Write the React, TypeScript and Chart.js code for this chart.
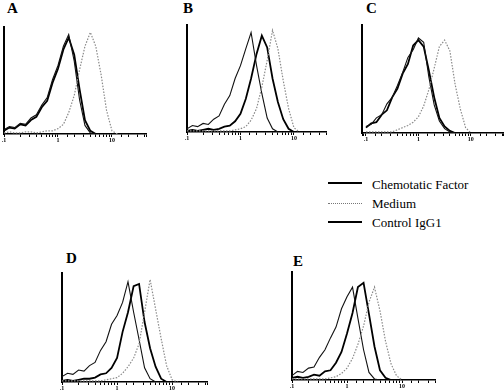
import React, { useEffect, useRef } from 'react';
import { Chart, registerables } from 'chart.js';

Chart.register(...registerables);

// Fluorescence intensity bins (log axis), shared by all panels
const bins = [0.1, 0.126, 0.158, 0.2, 0.251, 0.316, 0.398, 0.501, 0.631, 0.794, 1, 1.26, 1.58, 2, 2.51, 3.16, 3.98, 5.01, 6.31, 7.94, 10, 12.6, 15.8, 20, 25.1, 31.6, 39.8];
const tickLabels: Record<string, string> = { '0.1': '.1', '1': '1', '10': '10' };
const seriesNames = ['Chemotatic Factor', 'Medium', 'Control IgG1'];
const panelNames = ['A', 'B', 'C', 'D', 'E'];

// Relative cell counts (% of axis height)
const chemA = [3, 6, 5, 9, 8, 13, 16, 25, 31, 48, 61, 79, 90, 74, 42, 13, 3, 0];
const mediumA = [1, 2, 1, 1, 2, 2, 1, 2, 3, 3, 5, 9, 20, 36, 60, 82, 95, 82, 55, 22, 3, 0];
const controlA = [4, 7, 6, 10, 9, 15, 18, 27, 34, 51, 64, 82, 93, 68, 32, 8, 1, 0];

const chemB = [1, 2, 1, 2, 3, 2, 3, 5, 6, 10, 17, 31, 50, 73, 90, 79, 50, 28, 12, 3, 0];
const mediumB = [1, 1, 1, 1, 1, 1, 1, 1, 1, 2, 3, 5, 11, 22, 42, 67, 95, 78, 48, 22, 4, 0];
const controlB = [3, 6, 5, 8, 7, 12, 15, 26, 34, 50, 62, 78, 93, 62, 36, 13, 3, 0];

const chemC = [5, 9, 10, 17, 21, 33, 41, 55, 64, 81, 86, 80, 58, 33, 14, 6, 2, 0];
const mediumC = [1, 1, 1, 1, 1, 1, 3, 5, 7, 10, 15, 25, 40, 60, 80, 86, 76, 45, 22, 5, 0];
const controlC = [6, 8, 14, 17, 27, 33, 44, 56, 70, 77, 88, 84, 52, 26, 11, 4, 1, 0];

const chemD = [1, 2, 1, 2, 3, 3, 4, 7, 8, 13, 22, 46, 64, 88, 90, 55, 31, 14, 3, 0];
const mediumD = [1, 1, 1, 1, 1, 1, 1, 1, 2, 3, 4, 8, 14, 22, 35, 64, 94, 67, 40, 15, 2, 0];
const controlD = [5, 8, 7, 11, 10, 15, 18, 29, 37, 53, 61, 73, 92, 64, 39, 13, 3, 0];

const chemE = [2, 3, 2, 3, 5, 4, 8, 9, 16, 26, 43, 62, 86, 90, 61, 31, 9, 2, 0];
const mediumE = [1, 1, 1, 1, 1, 1, 1, 2, 3, 6, 11, 20, 33, 50, 72, 86, 64, 36, 15, 4, 0];
const controlE = [4, 8, 7, 11, 12, 21, 28, 39, 49, 66, 77, 86, 57, 28, 7, 1, 0];

const panelSeries = [
  [chemA, mediumA, controlA],
  [chemB, mediumB, controlB],
  [chemC, mediumC, controlC],
  [chemD, mediumD, controlD],
  [chemE, mediumE, controlE],
];

// Layout (page pixels) of each panel's plot area
const layouts = [
  { axisX: 4, top: 27, bottom: 134, right: 146, min: 0.1, max: 42.7, lx: 7, ly: 1 },
  { axisX: 187, top: 25, bottom: 132, right: 326, min: 0.1, max: 39.8, lx: 183, ly: 1 },
  { axisX: 362, top: 25, bottom: 133, right: 503, min: 0.084, max: 41, lx: 366, ly: 1 },
  { axisX: 62, top: 273, bottom: 382, right: 207, min: 0.1, max: 43, lx: 66, ly: 251 },
  { axisX: 292, top: 272, bottom: 380, right: 435, min: 0.1, max: 39.8, lx: 293, ly: 254 },
];

const SERIF = "'Liberation Serif', 'Times New Roman', Times, serif";
const PL = 6, PT = 2, XH = 12;

const styles = [
  { color: '#000000', width: 1.8, dash: [] as number[] },
  { color: '#8a8a8a', width: 1.2, dash: [1.5, 1.5] },
  { color: '#111111', width: 1.1, dash: [] as number[] },
];

function Panel({ idx }: { idx: number }) {
  const ref = useRef<HTMLCanvasElement>(null);
  const L = layouts[idx];
  const PR = L.right >= 500 ? 1 : 3;
  const w = L.right - L.axisX + PL + PR;
  const h = L.bottom - L.top + PT + XH;
  useEffect(() => {
    const datasets = panelSeries[idx].map((vals, s) => ({
      label: seriesNames[s],
      data: vals.map((y, i) => ({ x: bins[i], y })),
      borderColor: styles[s].color,
      borderWidth: styles[s].width,
      borderDash: styles[s].dash,
      pointRadius: 0,
      tension: 0,
      fill: false,
    }));
    const ordered = [datasets[1], datasets[2], datasets[0]];
    const chart = new Chart(ref.current!, {
      type: 'line',
      data: { datasets: ordered },
      options: {
        animation: false,
        responsive: false,
        layout: { padding: { left: PL, top: PT, right: PR, bottom: 0 } },
        plugins: { legend: { display: false }, tooltip: { enabled: false } },
        scales: {
          x: {
            type: 'logarithmic',
            min: L.min,
            max: L.max,
            afterFit: (s: any) => { s.height = XH; },
            grid: { display: true, drawOnChartArea: false, drawTicks: true, tickLength: 3, color: '#000', lineWidth: 1 },
            border: { display: true, color: '#000', width: 1.5 },
            ticks: {
              autoSkip: false,
              maxRotation: 0,
              padding: 0,
              color: '#000',
              font: { family: SERIF, size: 6, weight: 'bold' },
              callback: (v: any) => {
                const n = Number(v);
                for (const k of Object.keys(tickLabels)) {
                  if (Math.abs(n - Number(k)) < 1e-6 * Number(k)) return tickLabels[k];
                }
                return '';
              },
            },
          },
          y: {
            min: 0,
            max: 100,
            afterFit: (s: any) => { s.width = 0; },
            grid: { display: false, drawTicks: false },
            ticks: { display: false },
            border: { display: true, color: '#000', width: 2 },
          },
        },
      },
    });
    return () => chart.destroy();
  }, [idx]);
  return (
    <>
      <canvas
        ref={ref}
        width={w}
        height={h}
        style={{ position: 'absolute', left: L.axisX - PL, top: L.top - PT, width: w, height: h }}
      />
      <div
        style={{
          position: 'absolute', left: L.lx, top: L.ly, fontFamily: SERIF, fontWeight: 'bold',
          fontSize: 15, lineHeight: '15px', color: '#000',
        }}
      >
        {panelNames[idx]}
      </div>
    </>
  );
}

function Legend() {
  const rows = [
    { name: seriesNames[0], line: { borderTop: '2px solid #000' }, top: 182 },
    { name: seriesNames[1], line: { borderTop: '1px dotted #777' }, top: 203 },
    { name: seriesNames[2], line: { borderTop: '2px solid #000' }, top: 221 },
  ];
  return (
    <>
      {rows.map((r, i) => (
        <React.Fragment key={i}>
          <div style={{ position: 'absolute', left: 328, top: r.top, width: 34, height: 0, ...r.line }} />
          <div
            style={{
              position: 'absolute', left: 372, top: 175 + i * 19, fontFamily: SERIF,
              fontSize: 13, lineHeight: '19px', color: '#000', whiteSpace: 'nowrap',
            }}
          >
            {r.name}
          </div>
        </React.Fragment>
      ))}
    </>
  );
}

export default function App() {
  return (
    <div style={{ position: 'fixed', left: 0, top: 0, width: 504, height: 390, background: '#fff', overflow: 'hidden' }}>
      {layouts.map((_, i) => (
        <Panel key={i} idx={i} />
      ))}
      <Legend />
    </div>
  );
}
